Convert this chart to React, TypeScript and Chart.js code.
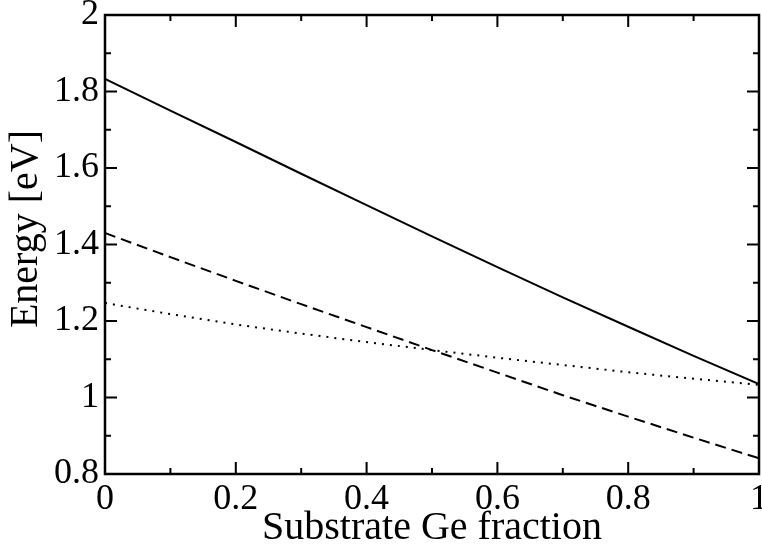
import { useEffect, useRef } from "react";
import { Chart, registerables } from "chart.js";

Chart.register(...registerables);

// Substrate Ge fraction (x) and the three energy curves in eV
const geFraction = [0, 0.1, 0.2, 0.3, 0.4, 0.5, 0.6, 0.7, 0.8, 0.9, 1];
const solidEnergy = [1.833, 1.75, 1.668, 1.585, 1.503, 1.421, 1.341, 1.262, 1.185, 1.109, 1.035];
const dashedEnergy = [1.43, 1.367, 1.305, 1.244, 1.184, 1.124, 1.065, 1.006, 0.95, 0.895, 0.841];
const dottedEnergy = [1.247, 1.218, 1.191, 1.167, 1.145, 1.124, 1.104, 1.085, 1.066, 1.049, 1.033];

const xTickValues = [0, 0.2, 0.4, 0.6, 0.8, 1];
const xMinorTicks = [0.1, 0.3, 0.5, 0.7, 0.9];
const yTickValues = [0.8, 1, 1.2, 1.4, 1.6, 1.8, 2];
const yMinorTicks = [0.9, 1.1, 1.3, 1.5, 1.7, 1.9];

const xTitle = "Substrate Ge fraction";
const yTitle = "Energy [eV]";

const FONT = "'Liberation Serif', 'Times New Roman', serif";
const fmt = (v: number) => String(+Number(v).toFixed(2));

// Frame with inward-pointing major/minor ticks on all four sides, plus the y title
const frameTicks = {
  id: "frameTicks",
  afterDraw(chart: any) {
    const { ctx, chartArea: a, scales } = chart;
    const xs = scales.x;
    const ys = scales.y;
    const major = 12;
    const minor = 6;
    ctx.save();
    ctx.strokeStyle = "#000";
    ctx.lineWidth = 2;
    ctx.beginPath();
    const xTick = (v: number, len: number) => {
      const px = xs.getPixelForValue(v);
      ctx.moveTo(px, a.bottom);
      ctx.lineTo(px, a.bottom - len);
      ctx.moveTo(px, a.top);
      ctx.lineTo(px, a.top + len);
    };
    const yTick = (v: number, len: number) => {
      const py = ys.getPixelForValue(v);
      ctx.moveTo(a.left, py);
      ctx.lineTo(a.left + len, py);
      ctx.moveTo(a.right, py);
      ctx.lineTo(a.right - len, py);
    };
    xTickValues.forEach((v) => xTick(v, major));
    xMinorTicks.forEach((v) => xTick(v, minor));
    yTickValues.forEach((v) => yTick(v, major));
    yMinorTicks.forEach((v) => yTick(v, minor));
    ctx.stroke();
    ctx.lineWidth = 2.5;
    ctx.strokeRect(a.left, a.top, a.right - a.left, a.bottom - a.top);

    // vertical axis title, centred on the page height rather than the plot
    ctx.fillStyle = "#000";
    ctx.font = `40px ${FONT}`;
    ctx.textAlign = "center";
    ctx.textBaseline = "middle";
    ctx.translate(26, chart.height * 0.418);
    ctx.rotate(-Math.PI / 2);
    ctx.fillText(yTitle, 0, 0);
    ctx.restore();
  },
};

const toPoints = (ys: number[]) => geFraction.map((x, i) => ({ x, y: ys[i] }));

export default function App() {
  const ref = useRef<HTMLCanvasElement | null>(null);

  useEffect(() => {
    if (!ref.current) return;
    const lineBase = {
      borderColor: "#000",
      borderWidth: 2,
      pointRadius: 0,
      fill: false,
      tension: 0,
    };
    const chart = new Chart(ref.current, {
      type: "line",
      data: {
        datasets: [
          { ...lineBase, label: "solid", data: toPoints(solidEnergy) },
          { ...lineBase, label: "dashed", data: toPoints(dashedEnergy), borderDash: [11, 6] },
          { ...lineBase, label: "dotted", data: toPoints(dottedEnergy), borderDash: [2, 6] },
        ],
      },
      options: {
        responsive: false,
        animation: false,
        layout: { padding: { left: 0, right: 3, top: 15, bottom: 0 } },
        plugins: { legend: { display: false }, tooltip: { enabled: false } },
        scales: {
          x: {
            type: "linear",
            min: 0,
            max: 1,
            grid: { display: false, drawTicks: false },
            border: { display: false },
            afterBuildTicks: (s: any) => {
              s.ticks = xTickValues.map((value) => ({ value }));
            },
            afterFit: (s: any) => {
              s.height = 74;
              s.paddingLeft = 0;
              s.paddingRight = 0;
            },
            ticks: {
              autoSkip: false,
              maxRotation: 0,
              padding: 4,
              color: "#000",
              font: { family: FONT, size: 36 },
              callback: (v: any) => fmt(v),
            },
            title: {
              display: true,
              text: xTitle,
              color: "#000",
              font: { family: FONT, size: 40, lineHeight: 1 },
              padding: { top: 0, bottom: 0 },
            },
          },
          y: {
            type: "linear",
            min: 0.8,
            max: 2,
            grid: { display: false, drawTicks: false },
            border: { display: false },
            afterBuildTicks: (s: any) => {
              s.ticks = yTickValues.map((value) => ({ value }));
            },
            afterFit: (s: any) => {
              s.width = 105;
              s.paddingTop = 0;
              s.paddingBottom = 0;
            },
            ticks: {
              autoSkip: false,
              padding: 6,
              color: "#000",
              font: { family: FONT, size: 36 },
              callback: (v: any) => fmt(v),
            },
            title: { display: false },
          },
        },
      },
      plugins: [frameTicks],
    } as any);
    return () => chart.destroy();
  }, []);

  return (
    <div style={{ position: "fixed", left: 0, top: 0, width: 762, height: 548, background: "#fff" }}>
      <canvas ref={ref} width={762} height={548} style={{ display: "block" }} />
    </div>
  );
}
